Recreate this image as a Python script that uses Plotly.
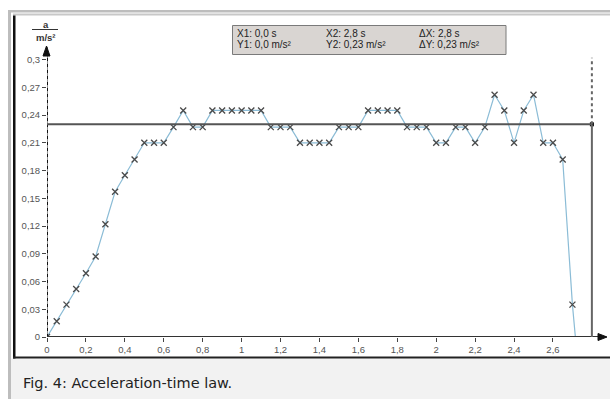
import plotly.graph_objects as go

# ---------------- data ----------------
time_s = [0.0, 0.05, 0.1, 0.15, 0.2, 0.25, 0.3, 0.35, 0.4, 0.45, 0.5, 0.55, 0.6, 0.65, 0.7,
          0.75, 0.8, 0.85, 0.9, 0.95, 1.0, 1.05, 1.1, 1.15, 1.2, 1.25, 1.3, 1.35, 1.4, 1.45,
          1.5, 1.55, 1.6, 1.65, 1.7, 1.75, 1.8, 1.85, 1.9, 1.95, 2.0, 2.05, 2.1, 2.15, 2.2,
          2.25, 2.3, 2.35, 2.4, 2.45, 2.5, 2.55, 2.6, 2.65, 2.7, 2.75]
accel = [0.0, 0.017, 0.035, 0.052, 0.069, 0.087, 0.122, 0.157, 0.175, 0.192, 0.21, 0.21, 0.21,
         0.227, 0.245, 0.227, 0.227, 0.245, 0.245, 0.245, 0.245, 0.245, 0.245, 0.227, 0.227,
         0.227, 0.21, 0.21, 0.21, 0.21, 0.227, 0.227, 0.227, 0.245, 0.245, 0.245, 0.245,
         0.227, 0.227, 0.227, 0.21, 0.21, 0.227, 0.227, 0.21, 0.227, 0.262, 0.245, 0.21,
         0.245, 0.262, 0.21, 0.21, 0.192, 0.035, -0.08]

x_tickvals = [0, 0.2, 0.4, 0.6, 0.8, 1.0, 1.2, 1.4, 1.6, 1.8, 2.0, 2.2, 2.4, 2.6]
x_ticktext = ["0", "0,2", "0,4", "0,6", "0,8", "1", "1,2", "1,4", "1,6", "1,8", "2", "2,2", "2,4", "2,6"]
y_tickvals = [0, 0.03, 0.06, 0.09, 0.12, 0.15, 0.18, 0.21, 0.24, 0.27, 0.3]
y_ticktext = ["0", "0,03", "0,06", "0,09", "0,12", "0,15", "0,18", "0,21", "0,24", "0,27", "0,3"]

cursor_x1, cursor_y1 = 0.0, 0.0
cursor_x2, cursor_y2 = 2.8, 0.23
cursor_labels = [["X1: 0,0 s", "X2: 2,8 s", "ΔX: 2,8 s"],
                 ["Y1: 0,0 m/s²", "Y2: 0,23 m/s²", "ΔY: 0,23 m/s²"]]
caption = "Fig. 4: Acceleration-time law."

# ---------------- layout geometry ----------------
FW, FH = 610, 399
L, T, R, B = 47, 47, 4, 62
W, H = FW - L - R, FH - T - B
X_MAX = W / 194.6
Y_MAX = H / 924.7


def PX(px):
    return (px - L) / W


def PY(py):
    return (T + H - py) / H


fig = go.Figure()

# data line
fig.add_trace(go.Scatter(
    x=time_s, y=accel, mode="lines+markers",
    line=dict(color="#8bbcd6", width=1.2),
    marker=dict(symbol="x-thin", size=6, line=dict(color="#4a4a4a", width=1.3), color="#4a4a4a"),
    showlegend=False, hoverinfo="skip", cliponaxis=True,
))

shapes = []
# outer frame
GRAY = "#bdbdbd"
shapes.append(dict(type="rect", xref="paper", yref="paper", x0=PX(11), x1=PX(FW + 2), y0=PY(FH + 2), y1=PY(358.5),
                   fillcolor="#f2f2f2", line=dict(width=0), layer="below"))
shapes.append(dict(type="rect", xref="paper", yref="paper", x0=PX(8), x1=PX(11), y0=PY(FH + 2), y1=PY(10),
                   fillcolor=GRAY, line=dict(width=0), layer="below"))
shapes.append(dict(type="rect", xref="paper", yref="paper", x0=PX(8), x1=PX(FW + 2), y0=PY(12.5), y1=PY(10),
                   fillcolor=GRAY, line=dict(width=0), layer="below"))
shapes.append(dict(type="rect", xref="paper", yref="paper", x0=PX(13), x1=PX(FW + 2), y0=PY(15.5), y1=PY(13.5),
                   fillcolor="#c8c8c8", line=dict(width=0), layer="below"))
# black image border (left and bottom)
shapes.append(dict(type="rect", xref="paper", yref="paper", x0=PX(13), x1=PX(15.5), y0=PY(358.5), y1=PY(15.5),
                   fillcolor="#111111", line=dict(width=0)))
shapes.append(dict(type="rect", xref="paper", yref="paper", x0=PX(13), x1=PX(FW + 2), y0=PY(358.5), y1=PY(356.5),
                   fillcolor="#222222", line=dict(width=0)))

# y-axis (dotted cursor X1 on top of axis)
shapes.append(dict(type="line", xref="x", yref="paper", x0=cursor_x1, x1=cursor_x1, y0=0, y1=1,
                   line=dict(color="#222222", width=1)))
shapes.append(dict(type="line", xref="x", yref="paper", x0=cursor_x1, x1=cursor_x1, y0=0, y1=0.97,
                   line=dict(color="#111111", width=2, dash="dot")))
# x-axis line
shapes.append(dict(type="line", xref="paper", yref="y", x0=0, x1=1, y0=0, y1=0,
                   line=dict(color="#333333", width=2)))
# arrow heads
shapes.append(dict(type="path", xref="paper", yref="paper",
                   path=f"M {PX(598)} {PY(333.5)} L {PX(607)} {PY(337)} L {PX(598)} {PY(340.5)} Z",
                   fillcolor="#111111", line=dict(color="#111111", width=1)))
shapes.append(dict(type="path", xref="paper", yref="paper",
                   path=f"M {PX(43)} {PY(56)} L {PX(46.5)} {PY(46)} L {PX(50)} {PY(56)} Z",
                   fillcolor="#111111", line=dict(color="#111111", width=1)))

# cursor lines
shapes.append(dict(type="line", xref="x", yref="y", x0=cursor_x1, x1=cursor_x2, y0=cursor_y2, y1=cursor_y2,
                   line=dict(color="#555555", width=2)))
shapes.append(dict(type="line", xref="x", yref="y", x0=cursor_x2, x1=cursor_x2, y0=0, y1=cursor_y2,
                   line=dict(color="#666666", width=2)))
shapes.append(dict(type="line", xref="x", yref="y", x0=cursor_x2, x1=cursor_x2, y0=cursor_y2, y1=0.302,
                   line=dict(color="#666666", width=2, dash="dot")))

# y label fraction bar
shapes.append(dict(type="line", xref="paper", yref="paper", x0=PX(32), x1=PX(58), y0=PY(29.5), y1=PY(29.5),
                   line=dict(color="#333333", width=1)))

# info box
shapes.append(dict(type="rect", xref="paper", yref="paper", x0=PX(232.5), x1=PX(506), y0=PY(54.5), y1=PY(25.5),
                   fillcolor="#d9d5d2", line=dict(color="#7a7a7a", width=1)))

# cursor intersection dot
fig.add_trace(go.Scatter(x=[cursor_x2], y=[cursor_y2], mode="markers",
                         marker=dict(symbol="square", size=4, color="#000000"),
                         showlegend=False, hoverinfo="skip", cliponaxis=False))

annotations = []
# y-axis label
annotations.append(dict(text="<b>a</b>", xref="paper", yref="paper", x=PX(45.5), y=PY(24.5),
                        showarrow=False, font=dict(family="Liberation Sans", size=9.5, color="#333333"),
                        xanchor="center", yanchor="middle"))
annotations.append(dict(text="<b>m/s²</b>", xref="paper", yref="paper", x=PX(45.5), y=PY(37.5),
                        showarrow=False, font=dict(family="Liberation Sans", size=9.5, color="#333333"),
                        xanchor="center", yanchor="middle"))
# info texts
col_x = [234.5, 323.5, 417]
row_y = [33.5, 45]
for r, row in enumerate(cursor_labels):
    for c, txt in enumerate(row):
        annotations.append(dict(text=txt, xref="paper", yref="paper", x=PX(col_x[c]), y=PY(row_y[r]),
                                showarrow=False, xanchor="left", yanchor="middle",
                                font=dict(family="Liberation Sans", size=10, color="#222222")))
# caption
annotations.append(dict(text=caption, xref="paper", yref="paper", x=PX(20.5), y=PY(382.5),
                        showarrow=False, xanchor="left", yanchor="middle",
                        font=dict(family="DejaVu Sans", size=14.5, color="#222222")))

tick_font = dict(family="Liberation Sans", size=9.5, color="#555555")
fig.update_layout(
    width=FW, height=FH,
    margin=dict(l=L, r=R, t=T, b=B, pad=0),
    paper_bgcolor="white", plot_bgcolor="white",
    shapes=shapes, annotations=annotations,
    showlegend=False,
    xaxis=dict(range=[0, X_MAX], showgrid=False, zeroline=False, showline=False,
               tickmode="array", tickvals=x_tickvals, ticktext=x_ticktext,
               ticks="outside", ticklen=4, tickwidth=1, tickcolor="#444444",
               tickfont=tick_font, fixedrange=True),
    yaxis=dict(range=[0, Y_MAX], showgrid=False, zeroline=False, showline=False,
               tickmode="array", tickvals=y_tickvals, ticktext=y_ticktext,
               ticks="outside", ticklen=4, tickwidth=1, tickcolor="#444444",
               tickfont=tick_font, fixedrange=True),
)

fig.write_html("out.html")
